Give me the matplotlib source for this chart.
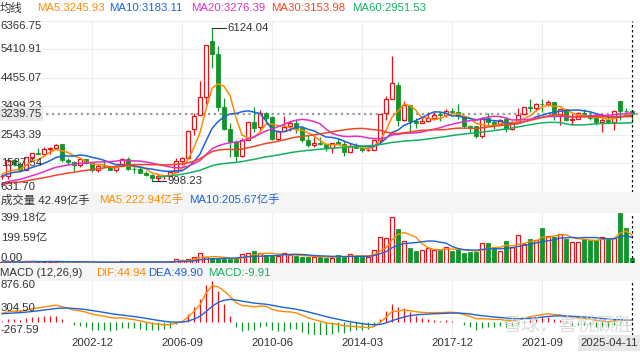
import numpy as np
import pandas as pd
import matplotlib
matplotlib.use("Agg")
import matplotlib.pyplot as plt
from matplotlib.patches import Rectangle

plt.rcParams['font.family'] = ['Liberation Sans', 'Noto Sans CJK SC', 'DejaVu Sans']

# quarterly closes 1990Q4 - 1998Q4 (only for MA / MACD warm-up, not drawn as candles)
hist_close = [127.61,
              120.2, 137.6, 180.9, 292.75,
              363.0, 1170.0, 650.0, 780.39,
              925.9, 1007.0, 900.0, 833.80,
              770.0, 460.0, 800.0, 647.87,
              635.0, 630.0, 750.0, 555.29,
              537.0, 880.0, 860.0, 917.02,
              1000.0, 1200.0, 1100.0, 1194.10,
              1240.0, 1340.0, 1240.0, 1146.70]
# quarterly volume 1996Q4 - 1998Q4 (亿手), warm-up for volume MA
hist_volume = [10, 14, 16, 10, 9, 9, 10, 8, 6]

# visible quarters 1999Q1 - 2025Q2
quarters = ["%dQ%d" % (y, q) for y in range(1999, 2026) for q in range(1, 5)][:106]

open_ = [1144.9, 1160, 1690, 1557, 1368.7, 1802, 1929, 1911, 2077, 2115, 2220, 1700,
         1643, 1525, 1731, 1581, 1347, 1511, 1487, 1366, 1492, 1742, 1399, 1396,
         1260, 1181, 1080, 1155, 1163, 1299, 1672, 1752, 2728, 3196, 3820, 5683,
         5265, 3468, 2741, 2294, 1849, 2385, 2966, 2795, 3289, 3125, 2395, 2675,
         2826, 2938, 2767, 2363, 2212, 2260, 2226, 2087, 2289, 2235, 1977, 2180,
         2112, 2039, 2050, 2365, 3258, 3748, 4214, 3053, 3536, 3002, 2931, 3010,
         3105, 3227, 3196, 3352, 3314, 3163, 2841, 2823, 2497, 3101, 2982, 2909,
         3066, 2743, 3006, 3229, 3474, 3450, 3591, 3570, 3650, 3232, 3400, 3025,
         3087, 3283, 3207, 3119, 2972, 3044, 2960, 3674, 3347, 3349]
high = [1212, 1756, 1730, 1620, 1811, 1930, 2114, 2125, 2141, 2242, 2245, 1776,
        1676, 1748, 1748, 1600, 1548, 1649, 1506, 1507, 1758, 1783, 1496, 1496,
        1328, 1243, 1223, 1190, 1305, 1757, 1785, 2698, 3274, 4335, 5552, 6124.04,
        5522, 3786, 2952, 2385, 2434, 2975, 3478, 3361, 3306, 3181, 2707, 3186,
        3002, 3067, 2827, 2536, 2478, 2453, 2239, 2276, 2445, 2334, 2270, 2260,
        2112, 2146, 2369, 3239, 3835, 5178, 4317, 3684, 3538, 3097, 3140, 3301,
        3301, 3295, 3392, 3450, 3587, 3220, 2882, 2839, 3129, 3288, 3048, 3089,
        3127, 2995, 3458, 3474, 3731, 3625, 3732, 3708, 3651, 3416, 3425, 3249,
        3312, 3418, 3323, 3155, 3096, 3174, 3358, 3674, 3440, 3349]
low = [1064, 1047, 1500, 1341, 1361, 1676, 1871, 1874, 1893, 2053, 1620, 1514,
       1339, 1455, 1560, 1311, 1311, 1474, 1358, 1307, 1492, 1359, 1259, 1259,
       1166, 998.23, 1004, 1067, 1162, 1295, 1541, 1744, 2541, 3404, 3563, 4778,
       3357, 2693, 1802, 1664, 1814, 2365, 2639, 2712, 2890, 2382, 2319, 2661,
       2661, 2610, 2307, 2134, 2132, 2200, 2001, 1949, 2222, 1849, 1950, 2087,
       1974, 1991, 2041, 2290, 3049, 3747, 2850, 3011, 2638, 2780, 2925, 2981,
       3044, 3016, 3154, 3254, 3063, 2782, 2644, 2449, 2440, 2822, 2733, 2857,
       2646, 2716, 2998, 3199, 3312, 3328, 3312, 3515, 3023, 2864, 3021, 2885,
       3064, 3134, 3053, 2882, 2635, 2945, 2689, 3040, 3140, 3040]
close = [1158.05, 1689.42, 1556.7, 1366.58, 1800.2, 1928.1, 1910.2, 2073.48, 2112.8, 2218.0, 1710, 1645.97,
         1524, 1732.8, 1581.6, 1357.65, 1510, 1487, 1367, 1497.04, 1741.6, 1399, 1396, 1266.5,
         1181, 1080.9, 1155.6, 1161.06, 1298, 1672, 1752, 2675.47, 3183.98, 3820.7, 5552.3, 5261.56,
         3472.7, 2736.1, 2293.8, 1820.8, 2373.2, 2959.4, 2779.4, 3277.1, 3109.1, 2398.4, 2655.7, 2808.1,
         2928.1, 2762.1, 2359.2, 2199.4, 2262.8, 2225.4, 2086.2, 2269.1, 2236.6, 1979.2, 2174.7, 2116.0,
         2033.3, 2048.3, 2363.9, 3234.7, 3747.9, 4277.2, 3052.8, 3539.2, 3003.9, 2929.6, 3004.7, 3103.6,
         3222.5, 3192.4, 3348.9, 3307.2, 3168.9, 2847.4, 2821.4, 2493.9, 3090.8, 2978.9, 2905.2, 3050.1,
         2750.3, 2984.7, 3218.1, 3473.1, 3441.9, 3591.2, 3568.2, 3639.8, 3252.2, 3398.6, 3024.4, 3089.3,
         3272.9, 3202.1, 3110.5, 2974.9, 3041.2, 2967.4, 3336.5, 3351.8, 3335.8, 3239.75]
volume = [8, 20, 14, 7, 18, 17, 15, 13, 12, 12, 10, 9,
          7, 10, 9, 6, 10, 12, 8, 9, 17, 13, 9, 8,
          9, 9, 12, 9, 13, 30, 23, 33, 53, 84, 48, 40,
          35, 32, 34, 39, 71, 84, 97, 79, 63, 68, 58, 79,
          63, 58, 47, 47, 53, 53, 45, 45, 66, 53, 71, 58,
          53, 53, 103, 205, 197, 363, 271, 176, 121, 97, 105, 118,
          105, 108, 132, 97, 110, 84, 89, 92, 158, 160, 124, 97,
          176, 126, 224, 153, 192, 184, 279, 216, 208, 231, 192, 168,
          171, 195, 187, 182, 207, 197, 200, 399.18, 276, 42.49]

# header readouts as printed on the chart
ma_names = ["MA5", "MA10", "MA20", "MA30", "MA60"]
ma_readout = [3245.93, 3183.11, 3276.39, 3153.98, 2951.53]
vol_readout = [42.49, 222.94, 205.67]
macd_readout = [44.94, 49.90, -9.91]

tick_quarters = ["2002Q4", "2006Q3", "2010Q2", "2014Q1", "2017Q4", "2021Q3"]
tick_labels = ["2002-12", "2006-09", "2010-06", "2014-03", "2017-12", "2021-09"]
last_label = "2025-04-11"
price_labels = [6366.75, 5410.91, 4455.07, 3499.23, 2543.39, 1587.54, 631.70]
vol_labels = [399.18, 199.59, 0.00]
macd_labels = [876.60, 304.50, -267.59]
last_price = 3239.75

RED = '#e3121c'
GREEN = '#12962c'
C_MA = {5: '#ff8a00', 10: '#1d62d6', 20: '#e22fc6', 30: '#f4442a', 60: '#16b062'}
TXT = '#333333'
FS = 8.2

n = len(close)
x = np.arange(n)
full_close = pd.Series(hist_close + close, dtype=float)
ma = {k: full_close.rolling(k).mean().to_numpy()[-n:] for k in (5, 10, 20, 30, 60)}
full_vol = pd.Series(hist_volume + volume, dtype=float)
vma5 = full_vol.rolling(5).mean().to_numpy()[-n:]
vma10 = full_vol.rolling(10).mean().to_numpy()[-n:]
ema12 = full_close.ewm(span=12, adjust=False).mean()
ema26 = full_close.ewm(span=26, adjust=False).mean()
dif = (ema12 - ema26).to_numpy()
dea = pd.Series(dif).ewm(span=9, adjust=False).mean().to_numpy()
macd = 2 * (dif - dea)
dif, dea, macd = dif[-n:], dea[-n:], macd[-n:]

W, H = 640, 354
fig = plt.figure(figsize=(W / 100, H / 100), dpi=100)
fig.patch.set_facecolor('white')


def rect(x0, y0, x1, y1):
    return [x0 / W, 1 - y1 / H, (x1 - x0) / W, (y1 - y0) / H]


def ftext(xp, yp, s, **kw):
    kw.setdefault('fontsize', FS)
    kw.setdefault('color', TXT)
    kw.setdefault('va', 'center')
    fig.text(xp / W, 1 - yp / H, s, **kw)


# gray header bands
for y0, y1 in [(191.8, 212.7), (263.3, 280.5)]:
    fig.add_artist(Rectangle((0, 1 - y1 / H), 1, (y1 - y0) / H, transform=fig.transFigure,
                             facecolor='#f5f5f5', edgecolor='none', zorder=0))

xlim = (-2 / 6, (W - 2) / 6)
ax = fig.add_axes(rect(0, 20.8, W, 191.8))
axv = fig.add_axes(rect(0, 212.7, W, 263.3))
axm = fig.add_axes(rect(0, 280.5, W, 335))
tick_pos = [quarters.index(q) for q in tick_quarters]
for a in (ax, axv, axm):
    a.set_xlim(*xlim)
    a.set_facecolor('none')
    for s in a.spines.values():
        s.set_visible(False)
    a.set_xticks([])
    a.set_yticks([])
    for tp in tick_pos:
        a.axvline(tp, color='#eeeeee', lw=0.8, zorder=0)
    a.axvline(n - 1, color='#111111', lw=0.9, ls=(0, (2, 2)), zorder=5)

# ---- main candle panel
ax.set_ylim(price_labels[-1], price_labels[0])
for v in price_labels:
    ax.axhline(v, color='#eeeeee', lw=0.8, zorder=0)
bw = 0.7
for i in range(n):
    o, h, l, c = open_[i], high[i], low[i], close[i]
    if c >= o:
        ax.vlines(i, max(o, c), h, color=RED, lw=0.9, zorder=3)
        ax.vlines(i, l, min(o, c), color=RED, lw=0.9, zorder=3)
        ax.add_patch(Rectangle((i - bw / 2, o), bw, max(c - o, 8), facecolor='white',
                               edgecolor=RED, lw=0.9, zorder=3))
    else:
        ax.vlines(i, l, h, color=GREEN, lw=0.9, zorder=3)
        ax.add_patch(Rectangle((i - bw / 2, c), bw, max(o - c, 8), facecolor=GREEN,
                               edgecolor=GREEN, lw=0.6, zorder=3))
for k in (5, 10, 20, 30, 60):
    ax.plot(x, ma[k], color=C_MA[k], lw=1.1, zorder=4)

ax.axhline(last_price, color='#999999', lw=1.6, ls=(0, (1, 1.6)), zorder=2)
ax.text(0.3 / 6 - 2 / 6, last_price, "%.2f" % last_price, fontsize=FS, color=TXT, va='center',
        ha='left', zorder=7,
        bbox=dict(boxstyle='square,pad=0.15', facecolor='#e8e8e8', edgecolor='none'))
for j, v in enumerate(price_labels):
    va = 'top' if j == 0 else ('bottom' if j == len(price_labels) - 1 else 'center')
    ax.text(xlim[0] + 0.1, v, "%.2f" % v, fontsize=FS, color=TXT, va=va, ha='left', zorder=6)

i_hi = int(np.argmax(high))
ax.plot([i_hi, i_hi + 2.4], [high[i_hi]] * 2, color=TXT, lw=0.8, zorder=5)
ax.text(i_hi + 2.6, high[i_hi], "%.2f" % high[i_hi], fontsize=FS, color=TXT, va='center', zorder=6)
i_lo = int(np.argmin(low))
ax.plot([i_lo, i_lo + 2.4], [low[i_lo]] * 2, color=TXT, lw=0.8, zorder=5)
ax.text(i_lo + 2.6, low[i_lo], "%.2f" % low[i_lo], fontsize=FS, color=TXT, va='center', zorder=6)

# ---- volume panel
axv.set_ylim(0, vol_labels[0])
for i in range(n):
    if close[i] >= open_[i]:
        axv.add_patch(Rectangle((i - bw / 2, 0), bw, volume[i], facecolor='white',
                                edgecolor=RED, lw=0.9, zorder=3))
    else:
        axv.add_patch(Rectangle((i - bw / 2, 0), bw, volume[i], facecolor=GREEN,
                                edgecolor=GREEN, lw=0.6, zorder=3))
axv.plot(x, vma5, color=C_MA[5], lw=1.0, zorder=4)
axv.plot(x, vma10, color=C_MA[10], lw=1.0, zorder=4)
axv.text(xlim[0] + 0.1, vol_labels[0], "%.2f亿" % vol_labels[0], fontsize=FS, color=TXT, va='top', zorder=6)
axv.text(xlim[0] + 0.1, vol_labels[1], "%.2f亿" % vol_labels[1], fontsize=FS, color=TXT, va='center', zorder=6)
axv.text(xlim[0] + 0.1, vol_labels[2], "%.2f" % vol_labels[2], fontsize=FS, color=TXT, va='bottom', zorder=6)

# ---- MACD panel
axm.set_ylim(macd_labels[-1], macd_labels[0])
axm.vlines(x, 0, macd, colors=[RED if m >= 0 else GREEN for m in macd], lw=0.9, zorder=3)
axm.plot(x, dif, color=C_MA[5], lw=1.0, zorder=4)
axm.plot(x, dea, color=C_MA[10], lw=1.0, zorder=4)
axm.text(xlim[0] + 0.1, macd_labels[0], "%.2f" % macd_labels[0], fontsize=FS, color=TXT, va='top', zorder=6)
axm.text(xlim[0] + 0.1, macd_labels[1], "%.2f" % macd_labels[1], fontsize=FS, color=TXT, va='center', zorder=6)
axm.text(xlim[0] + 0.1, macd_labels[2], "%.2f" % macd_labels[2], fontsize=FS, color=TXT, va='bottom', zorder=6)

# ---- header texts
ftext(0, 8, "均线")
for xp, name, val, k in zip([37, 109, 191, 271, 352], ma_names, ma_readout, (5, 10, 20, 30, 60)):
    ftext(xp, 8, "%s:%.2f" % (name, val), color=C_MA[k])

ftext(1, 200, "成交量 %.2f亿手" % vol_readout[0])
ftext(99, 200, "MA5:%.2f亿手" % vol_readout[1], color=C_MA[5])
ftext(189, 200, "MA10:%.2f亿手" % vol_readout[2], color=C_MA[10])

ftext(0, 273, "MACD (12,26,9)")
ftext(96, 273, "DIF:%.2f" % macd_readout[0], color=C_MA[5])
ftext(148, 273, "DEA:%.2f" % macd_readout[1], color=C_MA[10])
ftext(208, 273, "MACD:%.2f" % macd_readout[2], color=C_MA[60])

# ---- x labels
for tp, lab in zip(tick_pos, tick_labels):
    ftext(2 + 6 * tp, 343, lab, ha='center')
ftext(638, 343, last_label, ha='right',
      bbox=dict(boxstyle='square,pad=0.25', facecolor='#e8e8e8', edgecolor='none'))

# watermark
ftext(503, 326, "雪球：喜悦顾胜", fontsize=13.5, color='#d4d4d4', alpha=0.85, ha='left', zorder=8)

fig.savefig("out.png", dpi=100, facecolor='white')
